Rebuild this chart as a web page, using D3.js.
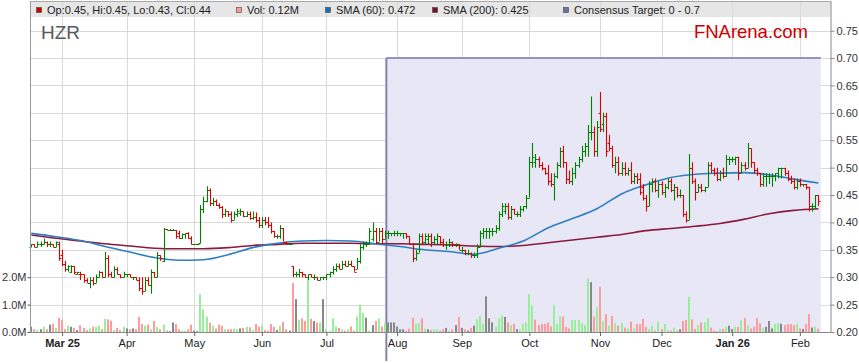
<!DOCTYPE html>
<html lang="en">
<head>
<meta charset="UTF-8">
<title>HZR</title>
<script src="https://d3js.org/d3.v7.min.js"></script>
<style>
  body { margin: 0; background: #fff; }
  svg text { font-family: "Liberation Sans", Arial, sans-serif; }
</style>
</head>
<body>
<svg id="chart"></svg>
<script>
// daily bars, one per weekday starting 17 Feb 2025
const firstDay = "2025-02-17";

const opens = [
  .355,.36,.355,.36,.36,.365,.36,.36,.355,.36,
  .34,.325,.315,.31,.32,.305,.305,.305,.295,.29,
  .295,.29,.30,.31,.30,.335,.305,.30,.315,.305,
  .30,.305,.305,.30,.30,.295,.28,.275,.295,.285,
  .31,.30,.34,.33,.388,.386,.386,.386,.38,.372,
  .378,.38,.372,.36,.36,.362,.425,.44,.46,.435,
  .44,.432,.428,.415,.42,.415,.405,.415,.418,.42,
  .412,.415,.408,.41,.405,.395,.405,.40,.395,.385,
  .375,.375,.39,.365,.36,.32,.305,.305,.31,.305,
  .30,.305,.30,.30,.295,.30,.30,.305,.31,.315,
  .32,.315,.325,.32,.325,.32,.315,.33,.355,.36,
  .36,.37,.385,.365,.385,.37,.38,.38,.38,.38,
  .38,.38,.38,.375,.36,.335,.345,.375,.365,.37,
  .375,.365,.37,.375,.365,.36,.36,.365,.36,.36,
  .35,.35,.345,.345,.34,.34,.355,.38,.385,.385,
  .385,.385,.39,.415,.42,.43,.41,.425,.415,.415,
  .425,.43,.445,.51,.51,.515,.505,.50,.49,.475,
  .47,.485,.505,.53,.51,.48,.475,.49,.505,.515,
  .53,.54,.565,.565,.53,.60,.58,.595,.545,.535,
  .505,.51,.49,.50,.49,.495,.475,.485,.48,.465,
  .445,.43,.47,.475,.46,.47,.455,.465,.475,.46,
  .465,.45,.45,.415,.405,.50,.475,.455,.465,.46,
  .465,.505,.495,.49,.48,.49,.485,.515,.515,.515,
  .52,.49,.505,.50,.535,.51,.495,.49,.47,.485,
  .485,.485,.485,.49,.50,.50,.49,.48,.475,.465,
  .475,.47,.47,.465,.43,.43,.45
];
const highs = [
  .36,.36,.365,.365,.37,.365,.365,.36,.365,.365,
  .35,.33,.322,.322,.32,.31,.31,.305,.298,.30,
  .30,.305,.312,.31,.346,.34,.31,.32,.318,.305,
  .31,.305,.305,.30,.30,.30,.30,.30,.30,.314,
  .31,.346,.34,.39,.388,.388,.388,.386,.385,.38,
  .38,.382,.375,.36,.36,.432,.447,.466,.462,.445,
  .442,.435,.43,.425,.42,.42,.42,.425,.425,.42,
  .42,.42,.42,.418,.41,.41,.41,.41,.40,.385,
  .378,.395,.39,.365,.36,.32,.31,.315,.31,.305,
  .305,.305,.305,.30,.30,.30,.305,.31,.32,.325,
  .325,.33,.33,.33,.33,.32,.335,.36,.365,.365,
  .39,.40,.39,.39,.39,.385,.385,.38,.385,.385,
  .38,.38,.38,.375,.362,.35,.38,.38,.38,.38,
  .38,.375,.38,.375,.37,.365,.37,.365,.362,.36,
  .355,.35,.35,.345,.345,.36,.385,.39,.39,.39,
  .39,.395,.42,.435,.435,.435,.43,.425,.42,.43,
  .43,.45,.52,.545,.525,.52,.51,.50,.505,.49,
  .49,.51,.537,.54,.51,.495,.50,.51,.52,.54,
  .545,.578,.63,.575,.585,.638,.60,.60,.56,.54,
  .52,.52,.51,.51,.50,.51,.49,.49,.49,.47,
  .45,.475,.48,.48,.475,.475,.47,.48,.48,.47,
  .465,.46,.45,.42,.525,.51,.48,.47,.47,.465,
  .51,.51,.50,.50,.495,.50,.523,.52,.52,.52,
  .52,.51,.51,.545,.535,.51,.50,.49,.49,.49,
  .49,.49,.49,.50,.50,.50,.495,.485,.48,.48,
  .48,.47,.47,.465,.435,.45,.45
];
const lows = [
  .355,.355,.355,.355,.36,.355,.355,.355,.355,.33,
  .32,.31,.31,.308,.305,.305,.295,.29,.29,.28,
  .285,.29,.30,.30,.30,.30,.30,.30,.305,.298,
  .30,.30,.30,.295,.295,.275,.268,.275,.285,.27,
  .30,.30,.33,.328,.386,.386,.386,.37,.37,.37,
  .37,.37,.36,.36,.36,.362,.417,.437,.43,.43,
  .43,.425,.408,.41,.41,.40,.405,.41,.412,.41,
  .41,.405,.405,.40,.39,.39,.395,.39,.38,.372,
  .37,.37,.365,.36,.36,.30,.30,.30,.30,.30,
  .295,.30,.295,.295,.295,.295,.295,.30,.305,.31,
  .315,.315,.32,.32,.32,.31,.315,.325,.35,.355,
  .36,.365,.36,.365,.36,.37,.37,.375,.375,.375,
  .375,.37,.37,.36,.328,.33,.345,.36,.36,.36,
  .355,.36,.36,.36,.355,.35,.355,.355,.355,.35,
  .345,.34,.34,.335,.335,.335,.355,.37,.37,.37,
  .375,.38,.385,.41,.415,.405,.405,.415,.41,.41,
  .42,.425,.445,.50,.50,.50,.495,.487,.468,.465,
  .44,.48,.50,.50,.47,.47,.468,.48,.50,.51,
  .52,.52,.55,.52,.52,.565,.565,.52,.53,.50,
  .49,.485,.485,.485,.485,.47,.47,.47,.45,.44,
  .42,.43,.455,.455,.445,.45,.445,.46,.455,.44,
  .445,.445,.41,.40,.405,.47,.44,.455,.455,.455,
  .465,.49,.485,.475,.475,.48,.483,.505,.51,.505,
  .477,.49,.495,.50,.50,.49,.485,.465,.465,.465,
  .47,.465,.475,.48,.48,.485,.475,.47,.46,.46,
  .465,.465,.46,.42,.42,.425,.43
];
const closes = [
  .36,.355,.36,.36,.365,.36,.36,.355,.365,.335,
  .325,.315,.32,.32,.31,.31,.305,.295,.29,.295,
  .29,.30,.31,.30,.335,.305,.30,.315,.305,.30,
  .305,.305,.30,.30,.295,.28,.275,.295,.285,.31,
  .30,.34,.335,.388,.386,.386,.386,.375,.372,.378,
  .38,.372,.36,.36,.36,.425,.44,.46,.435,.44,
  .432,.428,.415,.42,.415,.405,.415,.42,.42,.412,
  .415,.408,.41,.405,.395,.405,.40,.395,.385,.375,
  .375,.39,.365,.36,.36,.305,.305,.31,.305,.30,
  .305,.30,.30,.295,.30,.30,.305,.31,.315,.32,
  .315,.325,.32,.325,.32,.31,.33,.355,.36,.36,
  .385,.385,.365,.385,.37,.38,.38,.38,.38,.38,
  .38,.38,.375,.36,.335,.345,.375,.365,.375,.375,
  .365,.37,.375,.365,.36,.36,.365,.36,.36,.35,
  .35,.345,.345,.34,.34,.355,.38,.385,.385,.385,
  .385,.39,.415,.43,.43,.41,.425,.415,.415,.425,
  .43,.445,.51,.52,.515,.505,.50,.49,.475,.47,
  .485,.505,.53,.51,.48,.475,.49,.505,.515,.53,
  .54,.565,.565,.53,.575,.57,.595,.53,.535,.505,
  .51,.49,.50,.49,.495,.475,.485,.48,.455,.445,
  .43,.47,.475,.46,.47,.455,.465,.475,.46,.465,
  .45,.45,.415,.405,.50,.475,.455,.465,.46,.465,
  .505,.495,.49,.48,.49,.485,.515,.515,.515,.52,
  .49,.505,.50,.535,.51,.495,.49,.47,.485,.485,
  .485,.485,.49,.50,.50,.49,.48,.475,.465,.475,
  .47,.47,.465,.43,.43,.45,.44
];
// volume in millions of shares
const volumes = [
  .19,.1,.07,.1,.19,.1,.27,.3,.15,.52,
  .44,.1,.23,.19,.15,.07,.25,.15,.07,.13,
  .19,.19,.23,.1,.48,.46,.41,.07,.15,.07,
  .19,.13,.1,.13,.1,.55,.3,.23,.27,.1,
  .4,.19,.1,.27,.05,.03,.35,.29,.1,.05,
  .05,.1,.27,.05,.03,1.38,.82,.56,.34,.23,
  .13,.27,.23,.1,.1,.1,.13,.1,.13,.15,
  .19,.17,.07,.29,.19,.23,.07,.05,.29,.19,
  .07,.23,.37,.1,.05,1.79,1.2,.45,.5,.4,
  1.92,.48,.4,.35,.35,1.2,.1,.05,.5,.2,
  .15,.1,.05,.1,.2,.05,.56,1.0,.7,.52,
  .05,.25,.41,.5,.2,.35,.35,.35,.35,.2,
  .1,.1,.05,.12,.52,.3,.32,.5,.12,.1,
  .07,.1,.1,.05,.1,.15,.05,.1,.25,.55,
  .15,.1,.05,.15,.23,.46,.58,.3,1.3,.5,
  .35,.2,.5,.6,.55,.35,.25,.3,.1,.1,
  .3,.35,1.38,.97,.45,.25,.3,.3,.35,.2,
  .97,.3,.58,.56,.19,.13,.44,.44,.44,.32,
  .25,1.95,1.82,.56,.9,1.65,.4,.65,.23,.58,
  .32,.23,.32,.16,.13,.38,.13,.29,.29,.48,
  .19,.11,.23,.05,.38,.11,.29,.07,.05,.16,
  .05,.1,.4,.44,1.28,.46,.11,.25,.35,.35,
  .5,.16,.05,.03,.11,.11,.19,.23,.11,.19,
  .19,.44,.5,.24,.13,.19,.5,.32,.16,.19,
  .4,.13,.29,.32,.3,.25,.29,.29,.25,.29,
  .13,.11,.29,.65,.16,.19,.12
];

// moving averages, read every 8th session
const smaStep = 8;
const sma60 = [.380,.374,.367,.356,.346,.336,.331,.332,.341,.354,.362,.366,.367,.366,.361,.356,
               .350,.347,.342,.353,.366,.390,.407,.425,.452,.469,.482,.488,.490,.491,.487,.479,.472];
const sma200 = [.377,.371,.366,.361,.357,.353,.352,.352,.354,.358,.360,.362,.362,.362,.361,.361,
                .360,.359,.357,.356,.358,.363,.368,.373,.378,.385,.389,.393,.398,.406,.416,.422,.425];

const monthLabels = ["Mar 25","Apr","May","Jun","Jul","Aug","Sep","Oct","Nov","Dec","Jan 26","Feb"];
const boldLabels = ["Mar 25","Jan 26"];
const priceTicks = [0.20,0.25,0.30,0.35,0.40,0.45,0.50,0.55,0.60,0.65,0.70,0.75];
const volTicks = [0, 1, 2];

const consensusFrom = "2025-07-28";
const consensusLow = 0, consensusHigh = 0.7;

const legendItems = [
  {label: "Op:0.45, Hi:0.45, Lo:0.43, Cl:0.44", color: "#cc0000", x: 36},
  {label: "Vol: 0.12M", color: "#ff9999", x: 236},
  {label: "SMA (60): 0.472", color: "#1f6fb0", x: 325},
  {label: "SMA (200): 0.425", color: "#7a0e2e", x: 432},
  {label: "Consensus Target: 0 - 0.7", color: "#6e6ea8", x: 563}
];

// ---- layout
const W = 859, H = 363;
const plotL = 30.5, plotR = 830.5, plotT = 17, plotB = 332;

const svg = d3.select("#chart").attr("width", W).attr("height", H);

// trading days (weekdays)
const dates = [];
let day = d3.utcParse("%Y-%m-%d")(firstDay);
while (dates.length < closes.length) {
  if (day.getUTCDay() !== 0 && day.getUTCDay() !== 6) dates.push(day);
  day = d3.utcDay.offset(day, 1);
}
const fmtDay = d3.utcFormat("%Y-%m-%d");
const bars = closes.map((c, i) => ({
  i, date: dates[i], o: opens[i], h: highs[i], l: lows[i], c, v: volumes[i],
  prev: i > 0 ? closes[i - 1] : c
}));

const x = d3.scaleLinear().domain([-0.1, 259.8]).range([31, 830]);
const y = d3.scaleLinear().domain([0.2, 0.775]).range([plotB, plotT]);
const yv = d3.scaleLinear().domain([0, 11.5]).range([plotB, plotT]);

// month starts
const monthIdx = [];
bars.forEach((b, i) => {
  if (i > 0 && b.date.getUTCMonth() !== bars[i - 1].date.getUTCMonth()) monthIdx.push(i);
});

// header band
svg.append("rect")
  .attr("x", plotL).attr("y", 1.5).attr("width", plotR - plotL).attr("height", plotT - 1.5)
  .attr("fill", "#e6e6e6");

// grid
svg.append("g").selectAll("line")
  .data(priceTicks.slice(1))
  .join("line")
  .attr("x1", plotL).attr("x2", plotR)
  .attr("y1", p => Math.round(y(p)) + 0.5).attr("y2", p => Math.round(y(p)) + 0.5)
  .attr("stroke", "#d9d9d9");
svg.append("g").selectAll("line")
  .data(monthIdx)
  .join("line")
  .attr("x1", i => Math.round(x(i)) + 0.5).attr("x2", i => Math.round(x(i)) + 0.5)
  .attr("y1", 1.5).attr("y2", plotB)
  .attr("stroke", "#d9d9d9");

// consensus target band
const cIdx = bars.findIndex(b => fmtDay(b.date) === consensusFrom);
const cx0 = x(cIdx) + 1.5, cx1 = x(bars.length - 1) + 2.5;
const cyTop = y(consensusHigh), cyBot = Math.min(y(consensusLow), plotB);
svg.append("rect")
  .attr("x", cx0).attr("y", cyTop).attr("width", cx1 - cx0).attr("height", cyBot - cyTop)
  .attr("fill", "#e7e7f6");
svg.append("line")
  .attr("x1", cx0).attr("x2", cx1).attr("y1", cyTop).attr("y2", cyTop)
  .attr("stroke", "#9494c4").attr("stroke-width", 2);
svg.append("line")
  .attr("x1", cx0).attr("x2", cx0).attr("y1", cyTop).attr("y2", 361)
  .attr("stroke", "#8282b4").attr("stroke-width", 2);

// volume
const volColor = b => b.c > b.prev ? "#99ee99" : b.c < b.prev ? "#ff9b9b" : "#888888";
svg.append("g").selectAll("rect")
  .data(bars)
  .join("rect")
  .attr("x", b => Math.round(x(b.i)) - 1)
  .attr("width", 2)
  .attr("y", b => yv(b.v))
  .attr("height", b => plotB - yv(b.v))
  .attr("fill", volColor);

// moving averages
const smaLine = d3.line()
  .x((v, k) => x(Math.min(k * smaStep, bars.length - 1)))
  .y(v => y(v))
  .curve(d3.curveMonotoneX);
svg.append("path").attr("d", smaLine(sma200))
  .attr("fill", "none").attr("stroke", "#8a1a3f").attr("stroke-width", 1.6);
svg.append("path").attr("d", smaLine(sma60))
  .attr("fill", "none").attr("stroke", "#2e7fc0").attr("stroke-width", 1.6);

// OHLC bars
const barColor = b => b.c > b.o ? "#008000" : b.c < b.o ? "#dd0000" : (b.c < b.prev ? "#dd0000" : "#008000");
svg.append("g").selectAll("path")
  .data(bars)
  .join("path")
  .attr("d", b => {
    const cx = Math.round(x(b.i)) + 0.5;
    return `M${cx},${y(b.h)}V${y(b.l)}M${cx - 2},${Math.round(y(b.o)) + 0.5}H${cx}M${cx},${Math.round(y(b.c)) + 0.5}H${cx + 2}`;
  })
  .attr("fill", "none")
  .attr("stroke", barColor)
  .attr("stroke-width", 1.1);

// frame
svg.append("line").attr("x1", plotL).attr("x2", plotL).attr("y1", 1).attr("y2", plotB).attr("stroke", "#999");
svg.append("line").attr("x1", plotL).attr("x2", plotR).attr("y1", 1.5).attr("y2", 1.5).attr("stroke", "#aaa");

// right price axis
const yAxis = svg.append("g")
  .attr("transform", `translate(${plotR},0)`)
  .call(d3.axisRight(y).tickValues(priceTicks).tickFormat(d3.format(".2f")).tickSize(4).tickPadding(2));
yAxis.select(".domain").attr("d", `M0.5,1V${plotB}`).attr("stroke", "#888");
yAxis.selectAll("line").attr("stroke", "#888");
yAxis.selectAll("text").attr("font-size", 11).attr("fill", "#333");

// left volume axis
const vAxis = svg.append("g")
  .attr("transform", `translate(${plotL},0)`)
  .call(d3.axisLeft(yv).tickValues(volTicks).tickFormat(v => v.toFixed(1) + "M").tickSize(3).tickPadding(1));
vAxis.select(".domain").remove();
vAxis.selectAll("line").attr("stroke", "#555");
vAxis.selectAll("text").attr("font-size", 11).attr("fill", "#333");

// bottom date axis
const xAxis = svg.append("g")
  .attr("transform", `translate(0,${plotB})`)
  .call(d3.axisBottom(x).tickValues(monthIdx).tickFormat((v, k) => monthLabels[k]).tickSize(4).tickPadding(3));
xAxis.select(".domain").attr("d", `M${plotL},0.5H${plotR}`).attr("stroke", "#888");
xAxis.selectAll("line").attr("stroke", "#666");
xAxis.selectAll("text")
  .attr("font-size", 11).attr("fill", "#222")
  .attr("font-weight", (v, k) => boldLabels.includes(monthLabels[k]) ? "bold" : "normal");

// legend in header
const lg = svg.append("g").selectAll("g")
  .data(legendItems)
  .join("g")
  .attr("transform", it => `translate(${it.x},0)`);
lg.append("rect")
  .attr("x", 0.5).attr("y", 7.5).attr("width", 5).attr("height", 5)
  .attr("fill", it => it.color).attr("stroke", "#444").attr("stroke-width", 0.6);
lg.append("text")
  .attr("x", 11).attr("y", 14)
  .attr("font-size", 11).attr("fill", "#222")
  .text(it => it.label);

// titles
svg.append("text").attr("x", 41).attr("y", 39)
  .attr("font-size", 19).attr("fill", "#5a5a5a").text("HZR");
svg.append("text").attr("x", 808).attr("y", 38).attr("text-anchor", "end")
  .attr("font-size", 18.5).attr("fill", "#cc0000").text("FNArena.com");
</script>
</body>
</html>
